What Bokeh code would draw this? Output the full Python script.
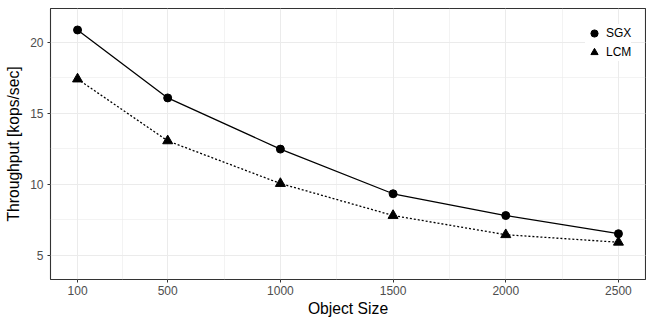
from bokeh.plotting import figure
from bokeh.models import FixedTicker, SingleIntervalTicker, Range1d, Legend, LegendItem
from bokeh.embed import file_html
from bokeh.resources import INLINE

sizes = [100, 500, 1000, 1500, 2000, 2500]
sgx = [20.85, 16.07, 12.47, 9.33, 7.80, 6.52]
lcm = [17.40, 13.05, 10.05, 7.80, 6.45, 5.92]
x_ticks = [100, 500, 1000, 1500, 2000, 2500]
x_minor = [300, 750, 1250, 1750, 2250]

FONT = "Liberation Sans"

p = figure(width=646, height=319, output_backend="svg", toolbar_location=None,
           x_range=Range1d(-20, 2620), y_range=Range1d(3.3, 22.36),
           min_border_left=50, min_border_right=1, min_border_top=8, min_border_bottom=39)
p.background_fill_color = "white"
p.border_fill_color = "white"
p.outline_line_color = "#333333"
p.outline_line_width = 1.1

p.xaxis.ticker = FixedTicker(ticks=x_ticks, minor_ticks=x_minor)
p.yaxis.ticker = SingleIntervalTicker(interval=5, num_minor_ticks=2)

for ax in (p.xaxis, p.yaxis):
    ax.axis_line_color = None
    ax.major_tick_line_color = "#333333"
    ax.major_tick_out = 3
    ax.major_tick_in = 0
    ax.minor_tick_line_color = None
    ax.major_label_text_font = FONT
    ax.major_label_text_font_size = "12px"
    ax.major_label_text_color = "#4D4D4D"
    ax.axis_label_text_font = FONT
    ax.axis_label_text_font_size = "15.7px"
    ax.axis_label_text_font_style = "normal"
    ax.axis_label_text_color = "black"
    ax.major_label_standoff = 3
p.xaxis.axis_label = "Object Size"
p.yaxis.axis_label = "Throughput [kops/sec]"
p.xaxis.major_label_standoff = 2
p.xaxis.axis_label_standoff = 2
p.yaxis.axis_label_standoff = 5

for g in (p.xgrid, p.ygrid):
    g.grid_line_color = "#EBEBEB"
    g.grid_line_width = 1
    g.minor_grid_line_color = "#EBEBEB"
    g.minor_grid_line_width = 0.6

p.line(sizes, sgx, line_color="black", line_width=1.3)
p.line(sizes, lcm, line_color="black", line_width=1.3, line_dash="2 2")
r1 = p.scatter(sizes, sgx, marker="circle", size=8, fill_color="black", line_color="black")
r2 = p.scatter(sizes, lcm, marker="triangle", size=10, fill_color="black", line_color="black")

legend = Legend(items=[LegendItem(label="SGX", renderers=[r1]),
                       LegendItem(label="LCM", renderers=[r2])],
                location=(535, 218))
legend.background_fill_color = "white"
legend.background_fill_alpha = 1
legend.border_line_color = None
legend.padding = 6
legend.spacing = 1
legend.glyph_width = 18
legend.glyph_height = 18
legend.label_height = 18
legend.label_standoff = 3
legend.margin = 0
legend.label_text_font = FONT
legend.label_text_font_size = "12px"
legend.label_text_color = "black"
p.add_layout(legend, "center")

open("out.html", "w").write(file_html(p, INLINE))
